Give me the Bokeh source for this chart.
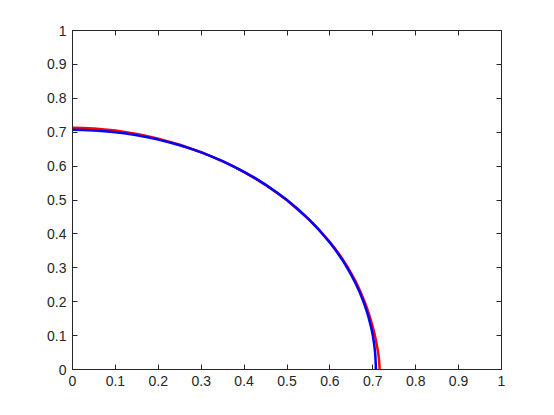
from bokeh.plotting import figure
from bokeh.models import LinearAxis, FixedTicker, Range1d
from bokeh.embed import file_html
from bokeh.resources import INLINE

# Red curve
red_x = [0.0, 0.025, 0.05, 0.075, 0.1, 0.125, 0.15, 0.175, 0.2, 0.225, 0.25, 0.275, 0.3,
         0.325, 0.35, 0.375, 0.4, 0.425, 0.45, 0.475, 0.5, 0.525, 0.55, 0.575, 0.6,
         0.61, 0.62, 0.63, 0.64, 0.65, 0.66, 0.67, 0.68, 0.685, 0.69, 0.695, 0.70,
         0.7025, 0.705, 0.7075, 0.71, 0.712, 0.714, 0.715, 0.716]
red_y = [0.713, 0.7125, 0.711, 0.708, 0.705, 0.700, 0.695, 0.688, 0.681, 0.672, 0.663,
         0.652, 0.641, 0.628, 0.614, 0.599, 0.582, 0.564, 0.544, 0.522, 0.499, 0.472,
         0.444, 0.411, 0.376, 0.360, 0.343, 0.325, 0.305, 0.283, 0.260, 0.233, 0.203,
         0.186, 0.168, 0.147, 0.125, 0.113, 0.100, 0.085, 0.068, 0.053, 0.035, 0.022, 0.0]

# Blue curve
blue_x = [0.0, 0.025, 0.05, 0.075, 0.1, 0.125, 0.15, 0.175, 0.2, 0.225, 0.25, 0.275, 0.3,
          0.325, 0.35, 0.375, 0.4, 0.425, 0.45, 0.475, 0.5, 0.525, 0.55, 0.575, 0.6,
          0.61, 0.62, 0.63, 0.64, 0.65, 0.66, 0.67, 0.68, 0.685, 0.69, 0.695, 0.6975,
          0.70, 0.7025, 0.7045, 0.706, 0.707, 0.7071]
blue_y = [0.7071, 0.7067, 0.7053, 0.7031, 0.7000, 0.6960, 0.6910, 0.6851, 0.6782, 0.6704,
          0.6614, 0.6514, 0.6403, 0.6280, 0.6144, 0.5995, 0.5831, 0.5651, 0.5454, 0.5238,
          0.5000, 0.4737, 0.4444, 0.4116, 0.3742, 0.3576, 0.3400, 0.3211, 0.3007, 0.2784,
          0.2538, 0.2261, 0.1939, 0.1754, 0.1546, 0.1303, 0.1162, 0.1000, 0.0806, 0.0607,
          0.0396, 0.0123, 0.0]

ticks = [0.0, 0.1, 0.2, 0.3, 0.4, 0.5, 0.6, 0.7, 0.8, 0.9, 1.0]
tick_labels = ["0", "0.1", "0.2", "0.3", "0.4", "0.5", "0.6", "0.7", "0.8", "0.9", "1"]

AX = "#262626"
FONT = "Liberation Sans"

p = figure(frame_width=429, frame_height=339, output_backend="svg", toolbar_location=None,
           x_range=Range1d(0, 1), y_range=Range1d(0, 1),
           min_border_left=72, min_border_right=45, min_border_top=30, min_border_bottom=38,
           x_axis_location=None, y_axis_location=None)
p.grid.visible = False
p.outline_line_color = AX
p.outline_line_width = 1
p.background_fill_color = "white"
p.border_fill_color = "white"

overrides = {t: l for t, l in zip(ticks, tick_labels)}
blank = {t: "" for t in ticks}

def mk(show):
    a = LinearAxis(ticker=FixedTicker(ticks=ticks))
    a.major_label_overrides = overrides if show else blank
    a.minor_tick_line_color = None
    a.major_tick_in = 5
    a.major_tick_out = 0
    a.axis_line_color = AX
    a.major_tick_line_color = AX
    a.major_label_text_color = AX
    a.major_label_text_font = FONT
    a.major_label_text_font_size = "14px"
    a.major_label_standoff = 6
    if not show:
        a.major_label_standoff = 0
    return a

p.add_layout(mk(True), "below")
p.add_layout(mk(True), "left")
p.add_layout(mk(False), "above")
p.add_layout(mk(False), "right")

p.line(red_x, red_y, line_color="#ff0000", line_width=2.5)
p.line(blue_x, blue_y, line_color="#0000ff", line_width=2.5)

open("out.html", "w").write(file_html(p, INLINE))
